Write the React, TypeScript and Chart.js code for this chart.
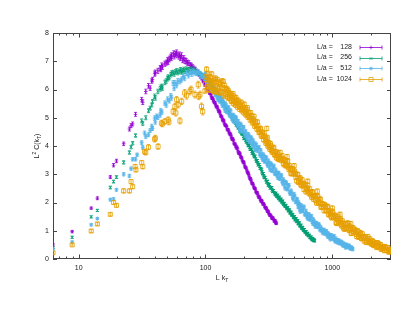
import React, { useEffect, useRef } from 'react';
import { Chart, registerables } from 'chart.js';
Chart.register(...registerables);

const FONT = '"Liberation Sans", Arial, Helvetica, sans-serif';
const SERIES_LABELS = ['128', '256', '512', '1024'];
const COLORS = ['#9400d3', '#009e73', '#56b4e9', '#e69f00'];
const POINT_STYLES = ['cross', 'crossRot', 'star', 'rect'];
const X_TICKS = [7, 8, 9, 10, 20, 30, 40, 50, 60, 70, 80, 90, 100, 200, 300, 400, 500, 600, 700, 800, 900, 1000, 2000];
const X_LABELED = [10, 100, 1000];
const Y_TICKS = [0, 1, 2, 3, 4, 5, 6, 7, 8];
// error used for points listed without an explicit error (dense region)
const DENSE_ERR = [0.04, 0.04, 0.06, 0.08];

// [L k_T, L^2 C(k_T), error]
const L128: number[][] = [
  [6.28,0.50,0.05],[8.89,0.97,0.04],[12.57,1.80,0.04],[14.05,2.15,0.05],[17.77,2.90,0.05],[18.85,3.32,0.06],
  [19.87,3.47,0.06],[22.65,4.08,0.06],[25.13,4.60,0.07],[25.91,4.72,0.07],[26.66,4.78,0.07],[28.10,5.12,0.07],
  [31.42,5.64,0.08],[32.04,5.55,0.08],[33.84,5.93,0.08],[35.54,6.13,0.08],[36.64,6.05,0.08],[37.70,6.30,0.08],
  [38.22,6.35,0.08],[39.74,6.56,0.09],[40.23,6.60,0.09],[42.15,6.66,0.09],[43.98,6.76,0.09],[44.43,6.72,0.09],
  [45.31,6.85,0.09],[45.74,6.80,0.09],[47.85,6.91,0.09],[49.07,6.95,0.09],[50.27,7.03,0.1],[50.66,6.98,0.1],
  [51.81,7.08,0.1],[53.31,7.15,0.1],[53.68,7.12,0.1],[54.05,7.20,0.1],[56.20,7.27,0.1],[56.55,7.18,0.1],
  [57.93,7.25,0.1],[59.28,7.30,0.1],[59.61,7.22,0.1],[61.88,7.17,0.1],[62.20,7.23,0.1],[63.5,7.12,0.1],
  [64.8,7.20,0.1],[66.2,7.05,0.1],[67.5,7.10,0.1],[69.0,7.02,0.1],[70.5,7.00,0.1],[72.2,6.95,0.09],
  [74.0,6.93,0.09],[75.8,6.86,0.09],[77.5,6.84,0.09],[79.3,6.79,0.09],[81.0,6.74,0.09],[83.0,6.70,0.09],
  [85.0,6.64,0.08],[87.0,6.60,0.08],[89.0,6.55,0.08],[91.0,6.48,0.08],[93.0,6.42,0.08],
  [95.6,6.30],[98,6.22],[100,6.16],[102,6.10],[104.5,6.00],[106.5,5.95],[108.5,5.87],[111,5.77],[113,5.70],
  [115,5.64],[117.5,5.55],[120,5.47],[122.7,5.40],[125.5,5.30],[128,5.22],[130.2,5.16],[133,5.05],[136,4.95],
  [138,4.92],[141,4.80],[144,4.72],[147,4.68],[150,4.58],[153,4.50],[156,4.44],[159.5,4.33],[163,4.24],
  [166,4.19],[170,4.06],[173.5,3.99],[177,3.96],[181,3.80],[184,3.74],[187.4,3.71],[191,3.60],[195,3.50],
  [199,3.44],[203,3.33],[207,3.24],[212,3.14],[216,3.05],[220,2.95],[225,2.84],[229,2.77],[234,2.67],
  [239,2.59],[244,2.50],[249,2.41],[254,2.35],[259,2.27],[264,2.19],[270,2.12],[275,2.06],[280,2.01],
  [286,1.95],[292,1.88],[298,1.81],[304,1.76],[310,1.69],[316,1.61],[323,1.55],[330,1.50],[337,1.45],
  [345,1.40],[352,1.34],[358,1.30],[362,1.27],
];
const L128_FILL: number[][] = [
  [97,6.28],[99,6.15],[101,6.15],[103,6.02],[105.5,6.01],[107.5,5.87],[110,5.85],[112,5.70],[114,5.69],[116,5.57],
  [119,5.53],[121.5,5.39],[124,5.38],[127,5.23],[129,5.23],[131.5,5.07],[134.5,5.03],[137,4.90],[139.5,4.89],
  [142.5,4.74],[145.5,4.73],[148.5,4.58],[151.5,4.57],[154.5,4.43],[158,4.41],[161,4.26],[164.5,4.25],[168,4.09],
  [172,4.06],[175,3.93],[179,3.90],[182.5,3.75],[186,3.75],[189,3.62],[193,3.58],[197,3.44],[201,3.41],[205,3.26],
  [209.5,3.22],[214,3.07],[218,3.03],[222.5,2.87],[227,2.84],[231.5,2.69],[236.5,2.66],[241.5,2.52],[246.5,2.49],
  [251.5,2.35],[256.5,2.34],[261.5,2.20],[267,2.19],[272.5,2.06],[277.5,2.07],[283,1.95],[289,1.94],[295,1.82],
  [301,1.81],[307,1.69],[313,1.68],[319.5,1.56],[326.5,1.55],[333.5,1.44],[341,1.45],[348.5,1.34],[355,1.35],[360,1.26],
];

const L256: number[][] = [
  [6.28,0.41,0.04],[8.89,0.77,0.04],[12.57,1.49,0.04],[14.05,1.72,0.04],[17.77,2.53,0.05],[18.85,2.74,0.05],
  [19.87,2.90,0.05],[22.65,3.42,0.06],[25.13,3.77,0.06],[25.91,3.96,0.06],[26.66,4.10,0.06],[28.10,4.37,0.06],
  [31.42,4.89,0.07],[32.04,4.80,0.07],[33.84,5.00,0.07],[35.54,5.25,0.07],[36.64,5.34,0.07],[37.70,5.45,0.07],
  [38.22,5.58,0.07],[39.74,5.76,0.08],[40.23,5.70,0.08],[42.15,5.93,0.08],[43.98,6.02,0.08],[44.43,6.08,0.08],
  [45.31,6.11,0.08],[45.74,6.05,0.08],[47.85,6.25,0.08],[49.07,6.30,0.08],[50.27,6.38,0.08],[50.66,6.44,0.08],
  [51.81,6.42,0.08],[53.31,6.52,0.08],[54.05,6.58,0.08],[55.5,6.60,0.08],[56.55,6.55,0.08],[57.93,6.62,0.08],
  [59.28,6.66,0.08],[60.5,6.60,0.08],[62.2,6.64,0.08],[63.5,6.70,0.08],[64.8,6.62,0.08],[66.2,6.66,0.08],
  [67.5,6.71,0.08],[69.0,6.64,0.08],[70.5,6.72,0.08],[72.2,6.68,0.08],[74.0,6.70,0.08],[75.8,6.65,0.08],
  [77.5,6.72,0.08],[79.3,6.68,0.08],[81.0,6.64,0.08],[83.0,6.68,0.08],[85.0,6.62,0.07],[87.0,6.60,0.07],
  [89.0,6.57,0.07],[91.0,6.55,0.07],[93.0,6.51,0.07],[95.6,6.49,0.07],[97.5,6.45,0.07],
  [99,6.46],[101,6.36],[103,6.35],[106,6.24],[108.5,6.23],[110,6.12],[112,6.15],[115,6.02],[117,6.04],[119,5.94],
  [122,5.91],[124,5.80],[126,5.83],[130,5.68],[132,5.69],[134,5.56],[138,5.55],[140,5.44],[142.6,5.48],[146,5.30],
  [148,5.34],[150,5.21],[153,5.23],[156,5.11],[160,5.08],[163,4.96],[165,5.00],[168,4.86],[171,4.89],[175,4.74],
  [178,4.76],[181,4.64],[184,4.64],[187,4.51],[190,4.56],[192,4.44],[198,4.40],[201,4.26],[205,4.29],[210,4.14],
  [213,4.16],[217,4.01],[221,4.02],[225,3.88],[231,3.89],[234,3.74],[238,3.76],[242,3.62],[246,3.64],[252,3.46],
  [256,3.48],[260,3.33],[265,3.34],[270,3.21],[277,3.16],[281,3.02],[286,3.02],[290,2.88],[295,2.89],[303,2.72],
  [308,2.75],[313,2.61],[318,2.64],[324,2.51],[333,2.52],[338,2.39],[344,2.42],[354,2.28],[359,2.33],[364,2.22],
  [370,2.26],[376,2.14],[382,2.19],[388,2.08],[394,2.12],[400,2.01],[406,2.05],[412,1.93],[418,1.97],[425,1.86],
  [431,1.90],[438,1.78],[445,1.82],[452,1.70],[459,1.74],[466,1.62],[473,1.66],[480,1.55],[488,1.58],[495,1.46],
  [503,1.50],[510,1.38],[518,1.43],[525,1.32],[533,1.36],[541,1.24],[549,1.28],[558,1.16],[566,1.20],[575,1.08],
  [584,1.12],[593,1.01],[602,1.04],[612,0.94],[621,0.97],[630,0.88],[640,0.91],[650,0.82],[660,0.84],[670,0.75],
  [680,0.78],[690,0.70],[700,0.73],[708,0.66],[716,0.69],[724,0.64],
];
const L256_FILL: number[][] = [
  [100,6.40],[102,6.39],[104.5,6.28],[107,6.26],[109,6.17],[111,6.16],[113.5,6.06],[116,6.05],[118,5.98],[120.5,5.90],
  [123,5.86],[125,5.82],[128,5.74],[131,5.70],[133,5.62],[136,5.57],[139,5.50],[141,5.47],[144,5.38],[147,5.33],
  [149,5.26],[151.5,5.22],[154.5,5.16],[158,5.10],[161.5,5.02],[164,4.99],[166.5,4.92],[169.5,4.88],[173,4.80],
  [176.5,4.76],[179.5,4.69],[182.5,4.66],[185.5,4.57],[188.5,4.54],[191,4.49],[195,4.42],[199.5,4.33],[203,4.28],
  [207.5,4.20],[211.5,4.15],[215,4.08],[219,4.04],[223,3.94],[228,3.88],[232.5,3.81],[236,3.76],[240,3.68],
  [244,3.63],[249,3.54],[254,3.48],[258,3.40],[262.5,3.35],[267.5,3.27],[273.5,3.20],[279,3.08],[283.5,3.02],
  [288,2.94],[292.5,2.89],[299,2.80],[305.5,2.74],[310.5,2.67],[315.5,2.63],[321,2.57],[328.5,2.52],[335.5,2.44],
  [341,2.41],[349,2.34],[356.5,2.31],[361.5,2.26],[367,2.24],[373,2.19],[379,2.17],[385,2.12],[391,2.10],
  [397,2.05],[403,2.03],[409,1.97],[415,1.95],[421.5,1.89],[428,1.88],[434.5,1.82],[441.5,1.80],[448.5,1.74],
  [455.5,1.72],[462.5,1.66],[469.5,1.64],[476.5,1.58],[484,1.56],[491.5,1.50],[499,1.48],[506.5,1.42],[514,1.40],
  [521.5,1.35],[529,1.34],[537,1.27],[545,1.26],[553.5,1.19],[562,1.18],[570.5,1.11],[579.5,1.10],[588.5,1.04],
  [597.5,1.03],[607,0.97],[616.5,0.96],[625.5,0.90],[635,0.89],[645,0.84],[655,0.83],[665,0.77],[675,0.76],
  [685,0.72],[695,0.71],[704,0.68],[712,0.67],[720,0.65],
];

const L512: number[][] = [
  [6.28,0.35,0.04],[8.89,0.60,0.04],[12.57,1.21,0.04],[14.05,1.43,0.04],[17.77,2.10,0.05],[18.85,2.12,0.05],
  [19.87,2.45,0.05],[22.65,3.00,0.06],[25.13,2.94,0.06],[25.91,3.20,0.06],[26.66,3.53,0.06],[28.10,3.53,0.06],
  [28.9,3.69,0.06],[31.42,4.12,0.07],[32.04,3.95,0.07],[33.10,4.46,0.07],[33.84,4.34,0.07],[35.54,4.40,0.07],
  [36.64,4.55,0.07],[37.70,4.70,0.07],[38.22,4.62,0.07],[39.74,4.99,0.08],[40.23,4.85,0.08],[41.2,5.05,0.08],
  [42.15,5.02,0.08],[43.98,5.10,0.08],[44.43,5.25,0.08],[45.31,5.20,0.08],[47.85,5.52,0.08],[49.07,5.45,0.08],
  [50.27,5.66,0.08],[51.81,5.60,0.08],[53.31,5.78,0.08],[54.05,5.70,0.08],[55.6,6.23,0.09],[56.55,6.05,0.09],
  [57.4,6.23,0.09],[59.28,6.15,0.09],[60.5,6.30,0.09],[62.9,6.29,0.09],[64.8,6.35,0.09],[66.8,6.46,0.09],
  [68.5,6.40,0.09],[71.0,6.58,0.09],[73.5,6.50,0.09],[76,6.62,0.09],[78,6.55,0.09],[80,6.64,0.09],
  [82.5,6.60,0.09],[85,6.58,0.09],[87.5,6.62,0.09],[90.5,6.55,0.09],[93,6.46,0.08],[96,6.50,0.08],[98,6.40,0.08],
  [100,6.57],[103,6.27],[106,6.32],[108.5,6.05],[111,6.22],[114,6.01],[117,6.11],[119,5.81],[122,5.84],[125,5.64],
  [128,5.77],[130,5.62],[133,5.70],[136,5.42],[139,5.51],[142.6,5.25],[146,5.42],[149,5.23],[152,5.37],[156,5.06],
  [160,5.10],[164,4.91],[167,5.06],[171,4.89],[175,4.98],[179,4.71],[183,4.79],[187,4.55],[191,4.73],[196,4.54],
  [200,4.67],[205,4.36],[210,4.40],[215,4.22],[220,4.36],[225,4.19],[230,4.29],[235,4.02],[240,4.11],[246,3.85],
  [252,4.03],[258,3.83],[264,3.96],[270,3.66],[276,3.70],[282,3.52],[288,3.66],[295,3.49],[302,3.58],[309,3.31],
  [316,3.40],[324,3.15],[331,3.34],[339,3.16],[346,3.30],[354,3.01],[362,3.06],[371,2.88],[379,3.03],[388,2.87],
  [397,2.96],[406,2.67],[415,2.75],[425,2.50],[435,2.68],[445,2.49],[455,2.61],[466,2.31],[479,2.32],[492,2.11],
  [506,2.22],[520,2.02],[529,2.12],[538,1.84],[548,1.93],[558,1.68],[571,1.88],[584,1.70],[598,1.85],[612,1.56],
  [626,1.61],[640,1.43],[655,1.58],[670,1.42],[685,1.52],[701,1.25],[717,1.33],[734,1.15],[751,1.27],[768,1.14],
  [786,1.22],[804,1.02],[822,1.05],[841,0.92],[861,1.03],[880,0.91],[901,0.98],[921,0.79],[943,0.86],[964,0.70],
  [986,0.83],[1009,0.71],[1032,0.81],[1056,0.62],[1080,0.66],[1105,0.58],[1131,0.64],[1157,0.56],[1184,0.60],
  [1211,0.48],[1239,0.52],[1267,0.41],[1296,0.50],[1326,0.42],[1357,0.47],[1388,0.37],[1418,0.40],[1448,0.35],
];
const L512_FILL: number[][] = [
  [101.5,6.38],[104.5,6.45],[107,6.15],[110,6.30],[112.5,6.08],[115.5,5.92],[118,6.02],[120.5,5.95],[123.5,5.72],
  [126.5,5.86],[129,5.58],[131.5,5.74],[134.5,5.50],[137.5,5.62],[141,5.35],[144,5.50],[147.5,5.20],[150.5,5.32],
  [154,5.12],[158,5.26],[162,4.98],[165.5,5.10],[169,4.85],[173,5.02],[177,4.80],[181,4.88],[185,4.65],[189,4.78],
  [193.5,4.52],[198,4.66],[202.5,4.48],[207.5,4.52],[212.5,4.30],[217.5,4.42],[222.5,4.15],[227.5,4.30],[232.5,4.08],
  [237.5,4.20],[243,3.95],[249,4.08],[255,3.90],[261,3.92],[267,3.72],[273,3.85],[279,3.60],[285,3.70],[291.5,3.45],
  [298.5,3.60],[305.5,3.38],[312.5,3.48],[320,3.24],[327.5,3.38],[335,3.12],[342.5,3.25],[350,3.04],[358,3.16],
  [366.5,2.96],[375,3.05],[383.5,2.84],[392.5,2.94],[401.5,2.76],[410.5,2.82],[420,2.58],[430,2.72],[440,2.47],
  [450,2.60],[460.5,2.36],[472.5,2.42],[485.5,2.18],[499,2.30],[513,2.02],[524.5,2.10],[533.5,1.96],[543,2.00],
  [553,1.78],[564.5,1.90],[577.5,1.72],[591,1.80],[605,1.60],[619,1.70],[633,1.48],[647.5,1.56],[662.5,1.40],
  [677.5,1.50],[693,1.32],[709,1.40],[725.5,1.22],[742.5,1.28],[759.5,1.16],[777,1.22],[795,1.06],[813,1.12],
  [831.5,0.98],[851,1.02],[870.5,0.90],[890.5,0.96],[911,0.84],[932,0.90],[953.5,0.76],[975,0.84],[997.5,0.74],
  [1020.5,0.78],[1044,0.66],[1068,0.72],[1092.5,0.62],[1118,0.66],[1144,0.56],[1170.5,0.61],[1197.5,0.52],
  [1225,0.55],[1253,0.47],[1281.5,0.50],[1311,0.44],[1341.5,0.46],[1372.5,0.40],[1403,0.41],[1433,0.37],
];

const L1024: number[][] = [
  [6.28,0.22,0.04],[8.89,0.50,0.04],[12.57,0.99,0.05],[14.05,1.24,0.05],[17.77,1.58,0.05],[18.85,2.00,0.06],
  [19.87,1.90,0.06],[22.65,2.41,0.07],[25.13,2.41,0.07],[25.91,2.74,0.07],[26.66,2.56,0.07],[27.9,3.27,0.08],
  [28.3,3.16,0.08],[31.42,3.41,0.08],[32.04,3.27,0.08],[33.10,3.80,0.09],[33.84,3.77,0.09],[35.54,3.96,0.09],
  [39.74,4.24,0.1],[40.23,4.28,0.1],[42.3,3.98,0.1],[45.0,4.81,0.1],[45.74,4.78,0.1],[47.85,4.87,0.1],
  [50.8,4.93,0.1],[51.5,4.85,0.1],[55.6,5.22,0.11],[57.4,5.40,0.11],[58.4,5.17,0.11],[59.2,5.64,0.11],
  [60.9,5.46,0.11],[62.9,4.89,0.11],[64.9,5.58,0.11],[68.5,5.88,0.12],[71.0,5.78,0.12],[75.4,5.93,0.12],
  [77.0,6.00,0.12],[82.6,5.82,0.12],[87.7,6.17,0.12],[88.5,5.76,0.12],[90.5,5.82,0.12],[93.0,5.40,0.12],
  [95.0,5.22,0.12],
  [99,5.95],[101,6.45],[102,6.72],[104,6.10],[106,6.35],[108.5,5.98],[110,6.30],[112,6.55],[114,6.08],[116,6.25],
  [118,5.92],[120,6.40],[122.7,6.29],[125,6.02],[127,6.22],[130,5.88],[132,6.18],[135,6.30],[138,6.29],[140,5.85],
  [143,6.05],[146.8,6.00],[149,5.75],[152,5.95],[155,5.68],[158,5.85],[161,5.62],[164,5.78],[166,5.50],[169,5.70],
  [172,5.45],[175,5.62],[179,5.38],[182,5.55],[186,5.30],[189,5.48],[193,5.25],[196,5.42],[200,5.18],[204,5.35],
  [208,5.10],[212,5.28],[216,5.02],[220,5.18],[225,4.92],[229,5.08],[234,4.82],[239,4.96],[244,4.70],[249,4.85],
  [254,4.60],[259,4.72],[264,4.48],[270,4.60],[275,4.35],[281,4.48],[287,4.22],[293,4.35],[299,4.10],[304,4.25],
  [304,4.62],[310,4.00],[316,4.12],[322,3.88],[328,4.00],[335,3.78],[342,3.92],[349,3.70],[356,3.80],[363,3.58],
  [370,3.72],[378,3.52],[384,3.62],
  [388,3.77],[397,3.49],[406,3.56],[416,3.34],[425,3.50],[435,3.31],[440,3.62],[445,3.46],[455,3.17],[466,3.20],
  [476,3.02],[487,3.19],[499,3.01],[500,3.30],[510,3.04],[522,2.77],[534,2.99],[546,2.75],[558,2.87],[571,2.60],
  [585,2.68],[598,2.46],[612,2.63],[626,2.45],[640,2.60],[640,2.75],[655,2.32],[670,2.35],[686,2.19],[701,2.36],
  [717,2.20],[734,2.23],[751,1.98],[760,2.40],[768,2.22],[786,1.98],[804,2.12],[822,1.85],[841,1.93],[861,1.71],
  [880,1.88],[901,1.71],[921,1.86],[943,1.59],[964,1.62],[986,1.46],[1000,1.80],[1009,1.64],[1032,1.47],
  [1056,1.51],[1080,1.26],[1105,1.51],[1131,1.28],[1150,1.58],[1157,1.42],[1184,1.17],[1211,1.27],[1239,1.06],
  [1267,1.25],[1296,1.09],[1326,1.27],[1357,1.01],[1388,1.06],[1400,1.25],[1420,0.91],[1453,1.11],[1486,0.96],
  [1520,1.00],[1555,0.80],[1591,0.99],[1628,0.81],[1665,0.93],[1703,0.72],[1743,0.80],[1783,0.64],[1824,0.78],
  [1866,0.65],[1909,0.79],[1953,0.58],[1998,0.61],[2044,0.52],[2091,0.62],[2139,0.53],[2188,0.56],[2238,0.41],
  [2290,0.56],[2343,0.42],[2396,0.51],[2451,0.36],[2508,0.42],[2565,0.30],[2624,0.41],[2685,0.31],[2746,0.40],
  [2810,0.27],[2874,0.31],[2896,0.26],
];
const L1024_FILL: number[][] = [
  [100,6.20],[103,6.00],[105,6.55],[107,6.20],[109,6.45],[111,6.10],[113,6.30],[115,5.95],[117,6.35],[119,6.12],
  [121,5.95],[124,6.35],[126,5.90],[128.5,6.10],[131,6.25],[133.5,5.92],[137,6.05],[139,5.78],[141.5,6.15],[145,5.82],
  [148,6.02],[150.5,5.70],[153.5,5.88],[156.5,5.80],[159.5,5.58],[162.5,5.72],[165,5.85],[167.5,5.60],[170.5,5.55],
  [173.5,5.72],[177,5.50],[180.5,5.62],[184,5.42],[187.5,5.38],[191,5.55],[194.5,5.32],[198,5.30],[202,5.48],
  [206,5.22],[210,5.15],[214,5.35],[218,5.08],[222.5,5.02],[227,5.18],[231.5,4.95],[236.5,4.88],[241.5,5.05],
  [246.5,4.78],[251.5,4.72],[256.5,4.85],[261.5,4.58],[267,4.52],[272.5,4.62],[278,4.40],[284,4.35],[290,4.45],
  [296,4.22],[301.5,4.15],[307,4.30],[313,4.05],[319,3.95],[325,4.08],[331.5,3.85],[338.5,3.82],[345.5,3.95],
  [352.5,3.68],[359.5,3.66],[366.5,3.78],[374,3.55],[381,3.58],
  [392,3.56],[401,3.66],[411,3.38],[420,3.50],[430,3.30],[440,3.46],[450,3.25],[460,3.30],[471,3.03],[481,3.15],
  [493,3.04],[504,3.11],[516,2.89],[528,2.99],[540,2.71],[552,2.83],[564,2.63],[578,2.80],[591,2.59],[605,2.65],
  [619,2.38],[633,2.51],[647,2.40],[662,2.48],[678,2.27],[693,2.38],[709,2.12],[725,2.24],[742,2.06],[759,2.24],
  [777,2.03],[795,2.10],[813,1.83],[831,1.96],[851,1.85],[870,1.93],[890,1.72],[911,1.83],[932,1.57],[953,1.69],
  [975,1.51],[997,1.69],[1020,1.48],[1044,1.55],[1068,1.29],[1092,1.44],[1118,1.34],[1144,1.43],[1170,1.22],
  [1197,1.35],[1225,1.10],[1253,1.24],[1281,1.07],[1311,1.26],[1341,1.07],[1372,1.16],[1404,0.91],[1436,1.06],
  [1469,0.97],[1503,1.05],[1537,0.88],[1573,0.98],[1609,0.77],[1646,0.88],[1684,0.74],[1723,0.89],[1763,0.74],
  [1803,0.79],[1845,0.59],[1887,0.71],[1931,0.63],[1975,0.71],[2021,0.56],[2067,0.64],[2115,0.48],[2163,0.56],
  [2213,0.46],[2264,0.57],[2316,0.45],[2369,0.50],[2423,0.35],[2479,0.43],[2536,0.38],[2594,0.44],[2654,0.31],
  [2715,0.40],[2778,0.25],[2842,0.33],
];

const SERIES = [
  [...L128, ...L128_FILL],
  [...L256, ...L256_FILL],
  [...L512, ...L512_FILL],
  [...L1024, ...L1024_FILL],
];
const MARKER_R = [1.8, 1.9, 2.0, 2.9];
const LW = 0.8;

function drawMarker(ctx: CanvasRenderingContext2D, style: string, x: number, y: number, r: number) {
  ctx.beginPath();
  if (style === 'cross' || style === 'star') {
    ctx.moveTo(x - r, y); ctx.lineTo(x + r, y);
    ctx.moveTo(x, y - r); ctx.lineTo(x, y + r);
  }
  if (style === 'crossRot' || style === 'star') {
    const d = r * Math.SQRT1_2;
    ctx.moveTo(x - d, y - d); ctx.lineTo(x + d, y + d);
    ctx.moveTo(x - d, y + d); ctx.lineTo(x + d, y - d);
  }
  if (style === 'rect') {
    const s = r * Math.SQRT1_2;
    ctx.rect(x - s, y - s, 2 * s, 2 * s);
  }
  ctx.stroke();
}

function drawRich(ctx: CanvasRenderingContext2D, parts: { t: string; s: number; dy: number }[], cx: number, cy: number, rotate: boolean) {
  ctx.save();
  ctx.translate(cx, cy);
  if (rotate) ctx.rotate(-Math.PI / 2);
  ctx.fillStyle = '#222';
  ctx.textBaseline = 'alphabetic';
  ctx.textAlign = 'left';
  let total = 0;
  parts.forEach((p) => { ctx.font = `${p.s}px ${FONT}`; total += ctx.measureText(p.t).width; });
  let x = -total / 2;
  parts.forEach((p) => {
    ctx.font = `${p.s}px ${FONT}`;
    ctx.fillText(p.t, x, p.dy);
    x += ctx.measureText(p.t).width;
  });
  ctx.restore();
}

const errorBars = {
  id: 'errorBars',
  beforeDatasetDraw(chart: any, args: any) {
    const ds = chart.data.datasets[args.index];
    const meta = args.meta;
    const ys = chart.scales.y;
    const ctx: CanvasRenderingContext2D = chart.ctx;
    const a = chart.chartArea;
    ctx.save();
    ctx.beginPath();
    ctx.rect(a.left, a.top, a.right - a.left, a.bottom - a.top);
    ctx.clip();
    ctx.strokeStyle = ds.borderColor;
    ctx.lineWidth = LW;
    ctx.beginPath();
    ds.errs.forEach((e: number, i: number) => {
      const pt = meta.data[i];
      const v = ds.data[i].y;
      const x = pt.x;
      const y1 = ys.getPixelForValue(v - e);
      const y2 = ys.getPixelForValue(v + e);
      ctx.moveTo(x, y1); ctx.lineTo(x, y2);
      ctx.moveTo(x - 1.5, y1); ctx.lineTo(x + 1.5, y1);
      ctx.moveTo(x - 1.5, y2); ctx.lineTo(x + 1.5, y2);
    });
    ctx.stroke();
    ctx.restore();
  },
};

const frameAndTicks = {
  id: 'frameAndTicks',
  beforeDatasetsDraw(chart: any) {
    const ctx: CanvasRenderingContext2D = chart.ctx;
    const a = chart.chartArea;
    const xs = chart.scales.x;
    const ys = chart.scales.y;
    ctx.save();
    ctx.strokeStyle = '#444';
    ctx.lineWidth = 1;
    ctx.beginPath();
    xs.ticks.forEach((t: any) => {
      const px = Math.round(xs.getPixelForValue(t.value)) + 0.5;
      const len = X_LABELED.includes(t.value) ? 4.5 : 2.5;
      ctx.moveTo(px, a.bottom); ctx.lineTo(px, a.bottom - len);
      ctx.moveTo(px, a.top); ctx.lineTo(px, a.top + len);
    });
    ys.ticks.forEach((t: any) => {
      const py = Math.round(ys.getPixelForValue(t.value)) + 0.5;
      ctx.moveTo(a.left, py); ctx.lineTo(a.left + 4, py);
      ctx.moveTo(a.right, py); ctx.lineTo(a.right - 4, py);
    });
    ctx.stroke();
    ctx.strokeRect(Math.round(a.left) + 0.5, Math.round(a.top) + 0.5, Math.round(a.right - a.left) - 1, Math.round(a.bottom - a.top) - 1);
    ctx.restore();
  },
};

const labelsAndKey = {
  id: 'labelsAndKey',
  afterDraw(chart: any) {
    const ctx: CanvasRenderingContext2D = chart.ctx;
    const a = chart.chartArea;
    drawRich(ctx, [
      { t: 'L', s: 7, dy: 0 }, { t: '2', s: 5, dy: -3 }, { t: ' C(k', s: 7, dy: 0 }, { t: 'T', s: 5, dy: 2 }, { t: ')', s: 7, dy: 0 },
    ], 38.5, (a.top + a.bottom) / 2, true);
    drawRich(ctx, [{ t: 'L k', s: 7, dy: 0 }, { t: 'T', s: 5, dy: 2 }], (a.left + a.right) / 2, 279.5, false);

    ctx.save();
    ctx.font = `7px ${FONT}`;
    ctx.textBaseline = 'middle';
    SERIES_LABELS.forEach((lab, i) => {
      const y = 46.8 + i * 10.7;
      ctx.fillStyle = '#222';
      ctx.textAlign = 'left';
      ctx.fillText('L/a =', 317, y);
      ctx.textAlign = 'right';
      ctx.fillText(lab, 352, y);
      ctx.strokeStyle = COLORS[i];
      ctx.lineWidth = LW;
      const yy = Math.round(y) + 0.5;
      ctx.beginPath();
      ctx.moveTo(360, yy); ctx.lineTo(382, yy);
      ctx.moveTo(360, yy - 2); ctx.lineTo(360, yy + 2);
      ctx.moveTo(382, yy - 2); ctx.lineTo(382, yy + 2);
      ctx.stroke();
      drawMarker(ctx, POINT_STYLES[i], 371, yy, MARKER_R[i]);
    });
    ctx.restore();
  },
};

export default function App() {
  const ref = useRef<HTMLCanvasElement | null>(null);
  useEffect(() => {
    if (!ref.current) return;
    const datasets = SERIES.map((s, i) => ({
      label: SERIES_LABELS[i],
      data: s.map((p) => ({ x: p[0], y: p[1] })),
      errs: s.map((p) => (p.length > 2 ? p[2] : DENSE_ERR[i])),
      showLine: false,
      pointStyle: POINT_STYLES[i],
      pointRadius: MARKER_R[i],
      pointBorderWidth: LW,
      borderColor: COLORS[i],
      backgroundColor: 'rgba(0,0,0,0)',
      pointBackgroundColor: 'rgba(0,0,0,0)',
      pointBorderColor: COLORS[i],
      order: 3 - i,
    }));
    const chart = new Chart(ref.current, {
      type: 'scatter',
      data: { datasets } as any,
      options: {
        animation: false,
        responsive: false,
        devicePixelRatio: 1,
        events: [],
        layout: { padding: { left: 0, right: 24, top: 33, bottom: 0 } },
        plugins: { legend: { display: false }, tooltip: { enabled: false } },
        scales: {
          x: {
            type: 'logarithmic',
            min: 6.28,
            max: 2900,
            grid: { display: false, drawTicks: false },
            border: { display: false },
            afterBuildTicks: (s: any) => { s.ticks = X_TICKS.map((v) => ({ value: v })); },
            afterFit: (s: any) => { s.height = 62; },
            ticks: {
              autoSkip: false, maxRotation: 0, padding: 5, color: '#222',
              font: { family: FONT, size: 7 },
              callback: (v: any) => (X_LABELED.includes(Number(v)) ? String(v) : ''),
            },
          },
          y: {
            type: 'linear',
            min: 0,
            max: 8,
            grid: { display: false, drawTicks: false },
            border: { display: false },
            afterBuildTicks: (s: any) => { s.ticks = Y_TICKS.map((v) => ({ value: v })); },
            afterFit: (s: any) => { s.width = 53; },
            ticks: { padding: 4, color: '#222', font: { family: FONT, size: 7 }, callback: (v: any) => String(v) },
          },
        },
      } as any,
      plugins: [errorBars, frameAndTicks, labelsAndKey],
    });
    return () => chart.destroy();
  }, []);
  return (
    <div style={{ position: 'fixed', left: 0, top: 0, width: 415, height: 321, background: '#fff' }}>
      <canvas ref={ref} width={415} height={321} style={{ display: 'block' }} />
    </div>
  );
}
